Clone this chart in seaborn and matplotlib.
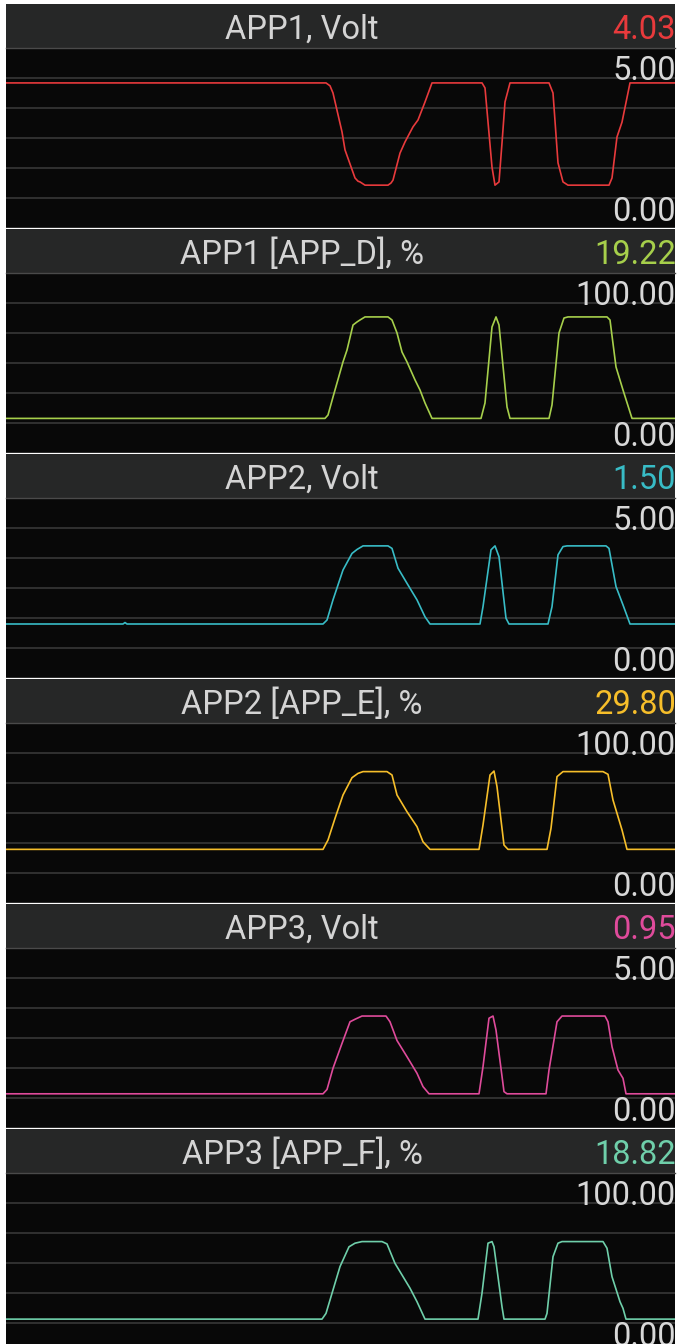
import matplotlib
matplotlib.use("Agg")
import numpy as np
import matplotlib.pyplot as plt
import seaborn as sns

# panel headers
titles = ["APP1, Volt", "APP1 [APP_D], %", "APP2, Volt",
          "APP2 [APP_E], %", "APP3, Volt", "APP3 [APP_F], %"]
current = ["4.03", "19.22", "1.50", "29.80", "0.95", "18.82"]
y_max = [5, 100, 5, 100, 5, 100]
colors = ["#e83a3c", "#a6cf4b", "#38bcc6", "#f6be2a", "#df4b9b", "#6fcfaa"]

# time (samples) and values
t_app1 = [0, 320, 324, 327, 336, 339, 349, 352, 354, 359, 382, 385, 387, 394, 399, 407, 412, 419, 426,
          476, 479, 486, 489, 493, 496, 499, 504, 543, 547, 552, 557, 562, 603, 606, 611, 616, 624, 669]
v_app1 = [4.03, 4.03, 3.95, 3.75, 2.67, 2.17, 1.39, 1.30, 1.28, 1.19, 1.19, 1.25, 1.33, 2.08, 2.39, 2.81, 3.00, 3.50, 4.03,
          4.03, 3.89, 1.69, 1.19, 1.28, 2.36, 3.50, 4.03, 4.03, 3.75, 1.81, 1.28, 1.19, 1.19, 1.39, 2.53, 2.94, 4.03, 4.03]

t_app_d = [0, 319, 322, 327, 337, 341, 347, 351, 354, 359, 382, 386, 391, 396, 401, 409, 414, 419, 426,
           475, 479, 486, 490, 493, 501, 504, 543, 546, 553, 558, 562, 601, 604, 610, 617, 626, 669]
v_app_d = [19.22, 19.22, 21.1, 31.1, 50.6, 57.2, 71.1, 72.8, 73.9, 75.6, 75.6, 73.9, 66.7, 56.1, 50.6, 40.6, 35.0, 27.8, 19.22,
           19.22, 27.8, 70.0, 75.6, 71.1, 25.6, 19.22, 19.22, 26.7, 66.7, 75.0, 75.6, 75.6, 73.9, 47.8, 35.0, 19.22, 19.22]

t_app2 = [0, 117, 119, 121, 317, 321, 327, 337, 346, 351, 357, 382, 386, 392, 401, 411, 419, 424,
          474, 477, 485, 489, 493, 500, 503, 542, 546, 552, 557, 561, 600, 603, 610, 617, 624, 669]
v_app2 = [1.50, 1.50, 1.54, 1.50, 1.50, 1.61, 2.17, 3.00, 3.46, 3.57, 3.67, 3.67, 3.60, 3.05, 2.63, 2.17, 1.70, 1.50,
          1.50, 1.98, 3.56, 3.67, 3.37, 1.66, 1.50, 1.50, 1.98, 3.42, 3.65, 3.67, 3.67, 3.60, 2.54, 2.03, 1.50, 1.50]

t_app_e = [0, 317, 322, 329, 337, 346, 352, 357, 381, 386, 391, 401, 411, 417, 424,
           473, 477, 484, 488, 491, 498, 502, 541, 545, 551, 557, 597, 602, 607, 616, 621, 669]
v_app_e = [29.8, 29.8, 35.0, 47.0, 60.0, 69.6, 72.0, 73.0, 73.0, 71.1, 60.0, 50.7, 42.4, 34.0, 29.8,
           29.8, 43.3, 71.1, 73.3, 64.6, 32.2, 29.8, 29.8, 41.5, 70.2, 73.0, 73.0, 71.5, 57.2, 40.6, 29.8, 29.8]

t_app3 = [0, 317, 321, 327, 336, 344, 349, 356, 380, 384, 391, 401, 411, 417, 423,
          473, 477, 483, 487, 490, 498, 501, 540, 543, 551, 556, 599, 602, 606, 612, 617, 620, 669]
v_app3 = [0.95, 0.95, 1.07, 1.66, 2.35, 2.95, 3.02, 3.11, 3.11, 2.95, 2.43, 1.98, 1.52, 1.15, 0.95,
          0.95, 1.70, 3.05, 3.11, 2.72, 1.01, 0.95, 0.95, 1.61, 2.95, 3.11, 3.11, 2.95, 2.26, 1.61, 1.38, 0.95, 0.95]

t_app_f = [0, 316, 320, 327, 334, 343, 349, 356, 376, 381, 389, 404, 411, 419,
           472, 476, 482, 486, 488, 496, 498, 539, 541, 547, 552, 556, 597, 601, 606, 614, 617, 620, 669]
v_app_f = [18.82, 18.82, 22.0, 35.0, 48.0, 59.0, 61.0, 61.9, 61.9, 60.6, 49.8, 36.0, 28.5, 18.82,
           18.82, 33.2, 61.0, 61.9, 59.0, 25.7, 18.82, 18.82, 22.0, 53.5, 61.0, 61.9, 61.9, 58.2, 42.4, 28.5, 24.8, 18.82, 18.82]

series = [(t_app1, v_app1), (t_app_d, v_app_d), (t_app2, v_app2),
          (t_app_e, v_app_e), (t_app3, v_app3), (t_app_f, v_app_f)]

W, H = 679, 1344
sns.set_theme(style="dark")
plt.rcParams['font.family'] = ['Roboto', 'DejaVu Sans']

fig = plt.figure(figsize=(W / 100, H / 100), dpi=100, facecolor="white")


def px_axes(x0, y0, w, h):
    return fig.add_axes([x0 / W, 1 - (y0 + h) / H, w / W, h / H])


def fy(y):
    return 1 - y / H


for k in range(6):
    top = 4 + 225 * k

    # header bar
    hdr = px_axes(6, top, 669, 44)
    hdr.set_facecolor("#262727")
    hdr.set_xticks([])
    hdr.set_yticks([])
    for s in hdr.spines.values():
        s.set_visible(False)

    # trace
    ax = px_axes(6, top + 44, 669, 180)
    ax.set_facecolor("#080808")
    t, v = series[k]
    sns.lineplot(x=t, y=v, ax=ax, color=colors[k], linewidth=1.2)
    ax.set_xlim(0, 669)
    ax.set_ylim(0, y_max[k])
    ax.set_yticks(np.linspace(0, y_max[k], 7))
    ax.grid(axis="y", color="#3c3c3c", linewidth=1.1)
    ax.grid(axis="x", visible=False)
    ax.tick_params(length=0, labelleft=False, labelbottom=False)
    ax.set_xlabel("")
    ax.set_ylabel("")
    for name, s in ax.spines.items():
        s.set_visible(name == "top")
    ax.spines["top"].set_color("#4a4a4a")
    ax.spines["top"].set_linewidth(1.0)

    fig.text(302 / W, fy(top + 35), titles[k], ha="center", va="baseline",
             fontsize=23.5, color="#d4d4d4")
    fig.text(676 / W, fy(top + 35), current[k], ha="right", va="baseline",
             fontsize=23.5, color=colors[k])
    fig.text(676 / W, fy(top + 76), f"{y_max[k]:.2f}", ha="right", va="baseline",
             fontsize=23.5, color="#d8d8d8")
    fig.text(676 / W, fy(top + 217), "0.00", ha="right", va="baseline",
             fontsize=23.5, color="#d8d8d8")

fig.savefig("out.png", dpi=100, facecolor="white")
